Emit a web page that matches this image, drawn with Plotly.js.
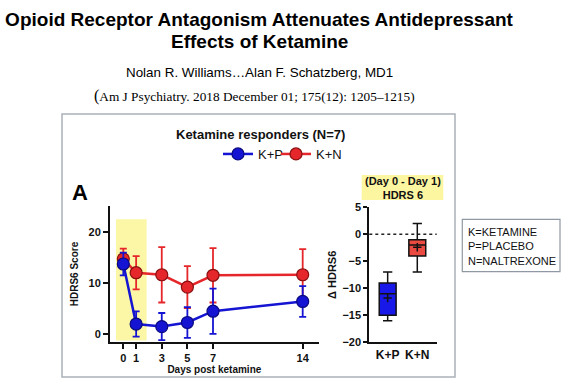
<!DOCTYPE html>
<html>
<head>
<meta charset="utf-8">
<script src="https://cdn.plot.ly/plotly-3.0.1.min.js"></script>
<style>html,body{margin:0;padding:0;background:#fff;}#chart{width:575px;height:385px;}</style>
</head>
<body>
<div id="chart"></div>
<script>
// ---- data ----
const days = [0, 1, 3, 5, 7, 14];
const dayLabels = ['0', '1', '3', '5', '7', '14'];
const kpMean = [13.7, 2.0, 1.5, 2.3, 4.5, 6.4];
const kpErr  = [2.2, 2.45, 2.65, 3.0, 4.4, 3.0];
const knMean = [14.7, 12.0, 11.6, 9.2, 11.5, 11.6];
const knErr  = [2.0, 3.25, 5.4, 4.1, 5.3, 5.0];
const seriesNames = ['K+P', 'K+N'];

const boxGroups = ['K+P', 'K+N'];
const boxLowerFence = [-16, -7];
const boxQ1 = [-15, -4];
const boxMedian = [-11, -2];
const boxQ3 = [-9, -1];
const boxUpperFence = [-7, 2];
const boxMean = [-11.8, -2.4];

const W = 575, H = 385;
const px = v => v / W;
const py = v => 1 - v / H;

const blue = '#1414d2', blueDark = '#0a0a80';
const red = '#e5262a', redDark = '#8a1010';
const FONT = 'Arial, Liberation Sans, sans-serif';
const bold = {family: FONT, size: 11, color: '#111', weight: 'bold'};
const legendFont = {family: FONT, size: 13, color: '#111'};

const traces = [
  {
    x: days, y: knMean, name: seriesNames[1], type: 'scatter', mode: 'lines+markers',
    xaxis: 'x', yaxis: 'y', legend: 'legend2',
    line: {color: red, width: 2.5},
    marker: {color: red, size: 12, line: {color: redDark, width: 1.2}},
    error_y: {type: 'data', array: knErr, visible: true, color: red, thickness: 1.8, width: 3.5}
  },
  {
    x: days, y: kpMean, name: seriesNames[0], type: 'scatter', mode: 'lines+markers',
    xaxis: 'x', yaxis: 'y', legend: 'legend',
    line: {color: blue, width: 2.5},
    marker: {color: blue, size: 12, line: {color: blueDark, width: 1.2}},
    error_y: {type: 'data', array: kpErr, visible: true, color: blue, thickness: 1.8, width: 3.5}
  },
  {
    type: 'box', x: [boxGroups[0]], xaxis: 'x2', yaxis: 'y2', showlegend: false,
    lowerfence: [boxLowerFence[0]], q1: [boxQ1[0]], median: [boxMedian[0]], q3: [boxQ3[0]], upperfence: [boxUpperFence[0]],
    fillcolor: '#1818e8', line: {color: '#111', width: 1.5}, width: 0.57, whiskerwidth: 0.55
  },
  {
    type: 'box', x: [boxGroups[1]], xaxis: 'x2', yaxis: 'y2', showlegend: false,
    lowerfence: [boxLowerFence[1]], q1: [boxQ1[1]], median: [boxMedian[1]], q3: [boxQ3[1]], upperfence: [boxUpperFence[1]],
    fillcolor: '#ea4a40', line: {color: '#111', width: 1.5}, width: 0.57, whiskerwidth: 0.55
  },
  {
    type: 'scatter', mode: 'markers', x: boxGroups, y: boxMean, xaxis: 'x2', yaxis: 'y2', showlegend: false,
    marker: {symbol: 'cross-thin', size: 6, line: {color: '#111', width: 1.5}}
  }
];

const layout = {
  width: W, height: H,
  margin: {l: 0, r: 0, t: 0, b: 0},
  paper_bgcolor: '#fff', plot_bgcolor: 'rgba(0,0,0,0)',
  showlegend: true,
  title: {
    text: '<b>Opioid Receptor Antagonism Attenuates Antidepressant</b>',
    font: {family: FONT, size: 19, color: '#000'},
    x: px(259), xanchor: 'center', y: py(19), yanchor: 'middle', xref: 'paper', yref: 'paper'
  },
  legend: {
    orientation: 'h', x: px(218), y: py(139), xanchor: 'left', yanchor: 'top',
    font: legendFont, bgcolor: 'rgba(0,0,0,0)'
  },
  legend2: {
    orientation: 'h', x: px(276), y: py(139), xanchor: 'left', yanchor: 'top',
    font: legendFont, bgcolor: 'rgba(0,0,0,0)'
  },
  xaxis: {
    domain: [px(110), px(318.7)], range: [-1.04, 15.25], anchor: 'y',
    tickmode: 'array', tickvals: days, ticktext: dayLabels,
    showgrid: false, zeroline: false, showline: true, linecolor: '#111', linewidth: 2,
    ticks: 'outside', ticklen: 5, tickwidth: 2, tickcolor: '#111', tickfont: bold,
    title: {text: 'Days post ketamine', font: {family: FONT, size: 10, weight: 'bold', color: '#111'}, standoff: 2}
  },
  yaxis: {
    domain: [py(342), py(206)], range: [-1.5, 25], anchor: 'x',
    tickvals: [0, 10, 20],
    showgrid: false, zeroline: false, showline: true, linecolor: '#111', linewidth: 2,
    ticks: 'outside', ticklen: 5, tickwidth: 2, tickcolor: '#111', tickfont: bold,
    title: {text: 'HDRS6 Score', font: {family: FONT, size: 10, weight: 'bold', color: '#111'}, standoff: 8}
  },
  xaxis2: {
    domain: [px(369.3), px(436.7)], range: [-0.62, 1.655], anchor: 'y2', type: 'category',
    showgrid: false, zeroline: false, showline: true, linecolor: '#111', linewidth: 2,
    ticks: '', tickfont: {family: FONT, size: 12, weight: 'bold', color: '#111'}
  },
  yaxis2: {
    domain: [py(342.3), py(207.3)], range: [-20, 5], anchor: 'x2',
    tickvals: [5, 0, -5, -10, -15, -20],
    showgrid: false, zeroline: false, showline: true, linecolor: '#111', linewidth: 2,
    ticks: 'outside', ticklen: 4, tickwidth: 2, tickcolor: '#111', tickfont: bold,
    title: {text: 'Δ HDRS6', font: {family: FONT, size: 11, weight: 'bold', color: '#111'}, standoff: 4}
  },
  shapes: [
    {type: 'rect', xref: 'paper', yref: 'paper', x0: px(62), x1: px(455), y0: py(377), y1: py(114),
     line: {color: '#a9b1b9', width: 1.5}, fillcolor: 'rgba(0,0,0,0)', layer: 'below'},
    {type: 'rect', xref: 'x', yref: 'y', x0: -0.57, x1: 1.82, y0: -1.2, y1: 22.4,
     line: {width: 0}, fillcolor: '#fbf7a6', layer: 'below'},
    {type: 'rect', xref: 'paper', yref: 'paper', x0: px(361.7), x1: px(443.3), y0: py(200), y1: py(175),
     line: {width: 0}, fillcolor: '#fdf6a0', layer: 'below'},
    {type: 'line', xref: 'x2 domain', yref: 'y2', x0: 0, x1: 1, y0: 0, y1: 0,
     line: {color: '#222', width: 1.5, dash: 'dot'}, layer: 'below'},
    {type: 'rect', xref: 'paper', yref: 'paper', x0: px(462.3), x1: px(560), y0: py(271.7), y1: py(219.3),
     line: {color: '#8f98a3', width: 1.2}, fillcolor: '#fff'}
  ],
  annotations: [
    {text: '<b>Effects of Ketamine</b>', xref: 'paper', yref: 'paper', x: px(259), y: py(41),
     xanchor: 'center', yanchor: 'middle', showarrow: false,
     font: {family: FONT, size: 19, color: '#000'}},
    {text: 'Nolan R. Williams…Alan F. Schatzberg, MD1', xref: 'paper', yref: 'paper', x: px(259), y: py(72),
     xanchor: 'center', yanchor: 'middle', showarrow: false,
     font: {family: FONT, size: 13.4, color: '#000'}},
    {text: '<span style="font-size:16px">(</span>Am J Psychiatry. 2018 December 01; 175(12): 1205–1215)', xref: 'paper', yref: 'paper', x: px(254), y: py(96),
     xanchor: 'center', yanchor: 'middle', showarrow: false,
     font: {family: 'Liberation Serif, Times New Roman, serif', size: 13.3, color: '#000'}},
    {text: '<b>Ketamine responders (N=7)</b>', xref: 'paper', yref: 'paper', x: px(260), y: py(134),
     xanchor: 'center', yanchor: 'middle', showarrow: false,
     font: {family: FONT, size: 13, color: '#111'}},
    {text: '<b>A</b>', xref: 'paper', yref: 'paper', x: px(70), y: py(193),
     xanchor: 'left', yanchor: 'middle', showarrow: false,
     font: {family: FONT, size: 22, color: '#000'}},
    {text: '<b>(Day 0 - Day 1)<br>HDRS 6</b>', xref: 'paper', yref: 'paper', x: px(402.5), y: py(187.5),
     xanchor: 'center', yanchor: 'middle', showarrow: false,
     font: {family: FONT, size: 11, color: '#111'}},
    {text: 'K=KETAMINE<br>P=PLACEBO<br>N=NALTREXONE', xref: 'paper', yref: 'paper', x: px(466), y: py(246),
     xanchor: 'left', yanchor: 'middle', align: 'left', showarrow: false,
     font: {family: FONT, size: 11, color: '#111'}}
  ]
};

Plotly.newPlot('chart', traces, layout, {displayModeBar: false, staticPlot: true});
</script>
</body>
</html>
